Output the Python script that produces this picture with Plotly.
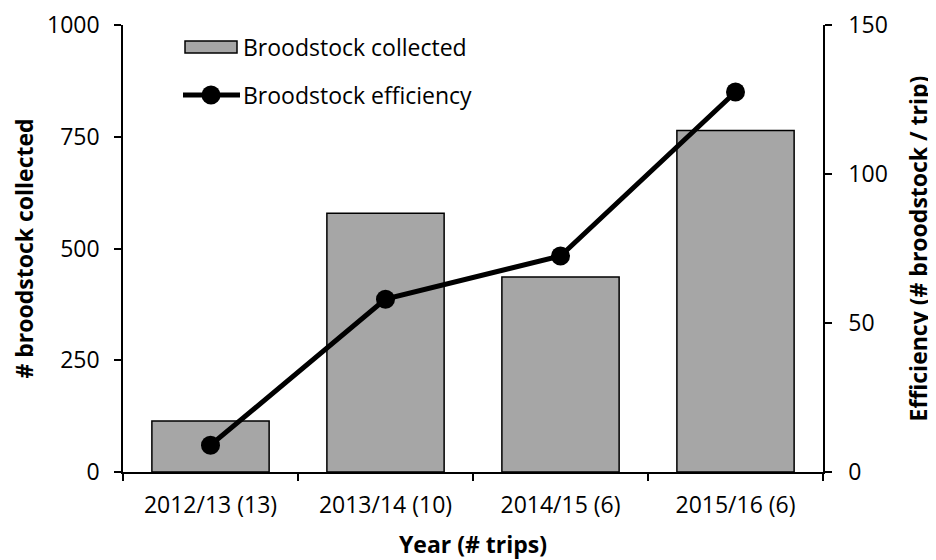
import plotly.graph_objects as go

years = ["2012/13 (13)", "2013/14 (10)", "2014/15 (6)", "2015/16 (6)"]
broodstock_collected = [114, 579, 436, 764]
broodstock_efficiency = [9.0, 58.0, 72.5, 127.5]
legend_labels = ["Broodstock collected", "Broodstock efficiency"]

FONT = "'Open Sans', Lato, sans-serif"
FS = 23
BAR_COLOR = "#a6a6a6"

# figure is offset by the 8px page margin of the html body
W, H = 928, 552
L, R, T, B = 115, 113, 17, 88
PW, PH = W - L - R, H - T - B

fig = go.Figure()
fig.add_trace(go.Bar(
    x=years, y=broodstock_collected, name=legend_labels[0],
    marker=dict(color=BAR_COLOR, line=dict(color="black", width=1.5)),
    yaxis="y", showlegend=False,
))
fig.add_trace(go.Scatter(
    x=years, y=broodstock_efficiency, name=legend_labels[1],
    mode="lines+markers", line=dict(color="black", width=5),
    marker=dict(color="black", size=19),
    yaxis="y2", showlegend=False,
))

# legend drawn in paper coordinates (page pixel positions minus 8px offset)
def px(x):
    return (x - 8 - L) / PW

def py(y):
    return (H - B - (y - 8)) / PH

shapes = [
    dict(type="rect", xref="paper", yref="paper",
         x0=px(185), x1=px(237), y0=py(53), y1=py(41),
         fillcolor=BAR_COLOR, line=dict(color="black", width=1.5)),
    dict(type="line", xref="paper", yref="paper",
         x0=px(183), x1=px(240), y0=py(95), y1=py(95),
         line=dict(color="black", width=5)),
    dict(type="circle", xref="paper", yref="paper",
         xsizemode="pixel", ysizemode="pixel",
         xanchor=px(211), yanchor=py(95),
         x0=-9.5, x1=9.5, y0=-9.5, y1=9.5,
         fillcolor="black", line=dict(color="black", width=0)),
]
annotations = [
    dict(text=legend_labels[0], xref="paper", yref="paper",
         x=px(241), y=py(47), xanchor="left", yanchor="middle",
         showarrow=False, font=dict(size=FS)),
    dict(text=legend_labels[1], xref="paper", yref="paper",
         x=px(241), y=py(95), xanchor="left", yanchor="middle",
         showarrow=False, font=dict(size=FS)),
]

axis_common = dict(
    automargin=False, showline=True, linecolor="black", linewidth=1.5,
    ticks="outside", ticklen=7, tickcolor="black", tickwidth=1.5,
    showgrid=False, zeroline=False, ticklabeloverflow="allow",
)

fig.update_layout(
    width=W, height=H,
    margin=dict(l=L, r=R, t=T, b=B),
    paper_bgcolor="white", plot_bgcolor="white",
    font=dict(family=FONT, size=FS, color="black"),
    bargap=0.33,
    showlegend=False,
    shapes=shapes,
    annotations=annotations,
    xaxis=dict(
        **axis_common, tickson="boundaries", ticklabelstandoff=12,
        title=dict(text="<b>Year (# trips)</b>", font=dict(size=FS), standoff=20),
    ),
    yaxis=dict(
        **axis_common, ticklabelstandoff=10,
        range=[0, 1000], tickvals=[0, 250, 500, 750, 1000],
        title=dict(text="<b># broodstock collected</b>", font=dict(size=FS), standoff=25),
    ),
    yaxis2=dict(
        **axis_common, ticklabelstandoff=12,
        range=[0, 150], tickvals=[0, 50, 100, 150],
        overlaying="y", side="right",
        title=dict(text="<b>Efficiency (# broodstock / trip)</b>", font=dict(size=FS), standoff=24),
    ),
)

fig.write_html("out.html")
